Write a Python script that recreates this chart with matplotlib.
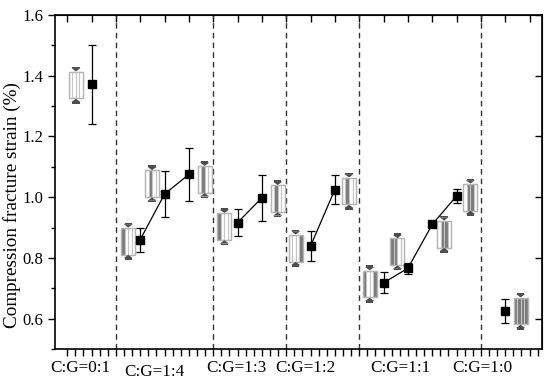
import numpy as np
import matplotlib
matplotlib.use('Agg')
import matplotlib.pyplot as plt
from matplotlib.patches import Rectangle, Polygon
from matplotlib.transforms import blended_transform_factory

plt.rcParams['font.family'] = ['Liberation Serif', 'DejaVu Serif']

# mean strain values (%) and error bars
x_pts = [2, 4, 5, 6, 8, 9, 11, 12, 14, 15, 16, 17, 19]
y_pts = [1.371, 0.860, 1.010, 1.075, 0.916, 0.998, 0.839, 1.025, 0.718, 0.766, 0.910, 1.004, 0.626]
err = [0.130, 0.040, 0.076, 0.086, 0.045, 0.075, 0.050, 0.048, 0.035, 0.018, 0.0, 0.022, 0.039]
# points connected by a line inside each group
linked = [[1, 2, 3], [4, 5], [6, 7], [8, 9, 10, 11]]

# sample sketches (x, centre y, stripe pattern: 1 = carbon / dark, 0 = glass / light)
box_x = [1.36, 3.51, 4.49, 6.65, 7.46, 9.65, 10.39, 12.58, 13.43, 14.57, 16.49, 17.57, 19.63]
box_y = [1.369, 0.855, 1.044, 1.058, 0.903, 0.995, 0.832, 1.020, 0.714, 0.820, 0.878, 1.000, 0.625]
box_pat = [[0, 0, 0, 0], [1, 0, 0, 0], [0, 1, 0, 0], [0, 1, 0, 0], [1, 0, 0, 0], [0, 1, 0, 0],
           [0, 0, 0, 1], [0, 1, 0, 0], [1, 0, 0, 1], [1, 1, 0, 0], [0, 1, 1, 0], [0, 1, 1, 0],
           [1, 1, 1, 1]]

separators = [3, 7, 10, 13, 18]
group_labels = ['C:G=0:1', 'C:G=1:4', 'C:G=1:3', 'C:G=1:2', 'C:G=1:1', 'C:G=1:0']
label_x = [1.52, 4.6, 7.97, 10.78, 14.69, 18.05]
label_y = [-0.058, -0.068, -0.058, -0.058, -0.058, -0.058]

fig = plt.figure(figsize=(5.5, 3.84), dpi=100)
ax = fig.add_axes([0.1, 0.0911, 0.885, 0.87])

ax.set_xlim(0.5, 20.5)
ax.set_ylim(0.5, 1.6)

for s in separators:
    ax.axvline(s, color='#333333', ls=(0, (4, 3)), lw=1.0, zorder=1)


def sketch(xc, yc, pat):
    w = 0.58
    h = 0.088
    n = len(pat)
    sw = w / n
    x0 = xc - w / 2
    y0 = yc - h / 2
    for k, p in enumerate(pat):
        fc = '#7a7a7a' if p else 'white'
        ax.add_patch(Rectangle((x0 + k * sw, y0), sw, h, facecolor=fc,
                               edgecolor='#c4c4c4', lw=0.8, zorder=2))
    ax.add_patch(Rectangle((x0, y0), w, h, facecolor='none', edgecolor='#b5b5b5', lw=1.0, zorder=2))
    aw = 0.19
    ah = 0.012
    bh = 0.005
    # top arrow pointing down, bottom arrow pointing up
    ax.add_patch(Polygon([[xc - aw, y0 + h + ah], [xc + aw, y0 + h + ah], [xc, y0 + h + 0.001]],
                         closed=True, facecolor='#4d4d4d', edgecolor='none', zorder=3))
    ax.add_patch(Rectangle((xc - aw * 0.8, y0 + h + ah), aw * 1.6, bh, facecolor='#4d4d4d',
                           edgecolor='none', zorder=3))
    ax.add_patch(Polygon([[xc - aw, y0 - ah], [xc + aw, y0 - ah], [xc, y0 - 0.001]],
                         closed=True, facecolor='#4d4d4d', edgecolor='none', zorder=3))
    ax.add_patch(Rectangle((xc - aw * 0.8, y0 - ah - bh), aw * 1.6, bh, facecolor='#4d4d4d',
                           edgecolor='none', zorder=3))


for bx, by, bp in zip(box_x, box_y, box_pat):
    sketch(bx, by, bp)

xp = np.array(x_pts)
yp = np.array(y_pts)
for grp in linked:
    ax.plot(xp[grp], yp[grp], color='black', lw=0.9, zorder=4)

ax.errorbar(x_pts, y_pts, yerr=err, fmt='s', color='black', ms=6, capsize=3,
            elinewidth=0.9, capthick=0.9, zorder=5)

# ticks
ax.set_yticks([0.6, 0.8, 1.0, 1.2, 1.4, 1.6])
ax.set_yticklabels(['0.6', '0.8', '1.0', '1.2', '1.4', '1.6'])
ax.set_yticks(np.arange(0.5, 1.61, 0.1), minor=True)
ax.tick_params(axis='y', which='major', direction='out', length=5, width=1, labelsize=12)
ax.tick_params(axis='y', which='minor', direction='out', length=3, width=1)
ax.set_xticks(np.arange(1, 21))
ax.set_xticks(np.arange(1, 20.5, 1 / 3), minor=True)
ax.tick_params(axis='x', which='both', direction='out', length=5, width=1, labelbottom=False)
ax2 = ax.secondary_xaxis('top')
ax2.set_xticks(np.arange(1, 21))
ax2.tick_params(direction='in', length=5, width=1, labeltop=False)
ax3 = ax.secondary_yaxis('right')
ax3.set_yticks([0.6, 0.8, 1.0, 1.2, 1.4, 1.6])
ax3.tick_params(direction='in', length=5, width=1, labelright=False)

for sp in ax.spines.values():
    sp.set_linewidth(1.2)

ax.set_ylabel('Compression fracture strain (%)', fontsize=13.8)
ax.yaxis.set_label_coords(-0.07, 0.43)

tr = blended_transform_factory(ax.transData, ax.transAxes)
for t, lx, ly in zip(group_labels, label_x, label_y):
    ax.text(lx, ly, t, transform=tr, ha='center', va='center', fontsize=12.3)

fig.savefig('out.png', dpi=100)
